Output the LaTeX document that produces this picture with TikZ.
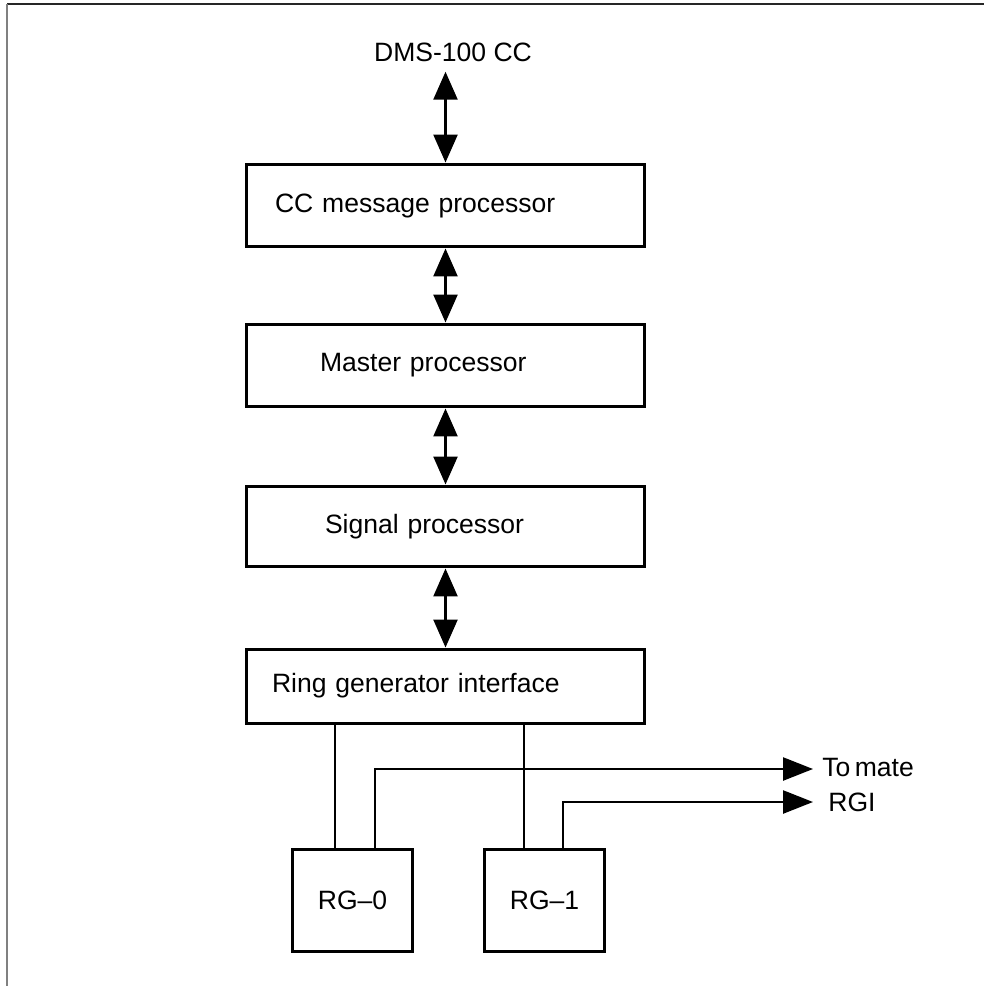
\documentclass[tikz,border=0pt]{standalone}
\usepackage{fontspec}
\setmainfont{Liberation Sans}
\usetikzlibrary{arrows.meta}

\tikzset{
  blk/.style={draw, line width=0.06cm, minimum width=7.98cm, align=left, text width=7.98cm, inner xsep=0pt},
  rgbox/.style={draw, line width=0.06cm, minimum width=2.42cm, minimum height=2.04cm},
  wire/.style={line width=0.05cm},
  biarrow/.style={wire, {Triangle[length=0.56cm,width=0.48cm]}-{Triangle[length=0.56cm,width=0.48cm]}},
  outarrow/.style={wire, -{Triangle[length=0.6cm,width=0.46cm]}}
}

\begin{document}
\begin{tikzpicture}[x=0.02cm, y=-0.02cm, font=\fontsize{15.1}{18}\selectfont]
\useasboundingbox (0,0) rectangle (984,986);
\draw[black!85, line width=0.05cm] (7,4) -- (984,4);
\draw[black!50, line width=0.05cm] (7,4) -- (7,986);

\node (dms) [inner sep=0.2cm] at (453,52) {DMS-100 CC};
\node (cmp) [blk, minimum height=1.66cm] at (445.5,205.5) {\hspace*{0.58cm}CC message processor};
\node (mp)  [blk, minimum height=1.66cm] at (445.5,365.5) {\hspace*{1.48cm}Master processor};
\node (sp)  [blk, minimum height=1.62cm] at (445.5,526.5) {\hspace*{1.58cm}Signal processor};
\node (rgi) [blk, minimum height=1.48cm] at (445.5,686)   {\hspace*{0.52cm}Ring generator interface};
\node (rg0) [rgbox] at (352.5,900) {RG--0};
\node (rg1) [rgbox] at (544.5,900) {RG--1};

\node (mate) [anchor=west, inner xsep=0.18cm] at (813,767) {To\,mate};
\node (back) [anchor=west, inner xsep=0.3cm]  at (813,802) {RGI};

\draw[biarrow] (dms.south -| cmp.north) -- (cmp.north);
\draw[biarrow] (cmp.south) -- (mp.north);
\draw[biarrow] (mp.south) -- (sp.north);
\draw[biarrow] (sp.south) -- (rgi.north);

\draw[wire] ([xshift=-0.35cm]rg0.north) -- ([xshift=-0.35cm]rg0.north |- rgi.south);
\draw[wire] ([xshift=-0.41cm]rg1.north) -- ([xshift=-0.41cm]rg1.north |- rgi.south);
\draw[outarrow] ([xshift=0.45cm]rg0.north) |- (mate.west |- 0,769);
\draw[outarrow] ([xshift=0.37cm]rg1.north) |- (back.west);
\end{tikzpicture}
\end{document}
